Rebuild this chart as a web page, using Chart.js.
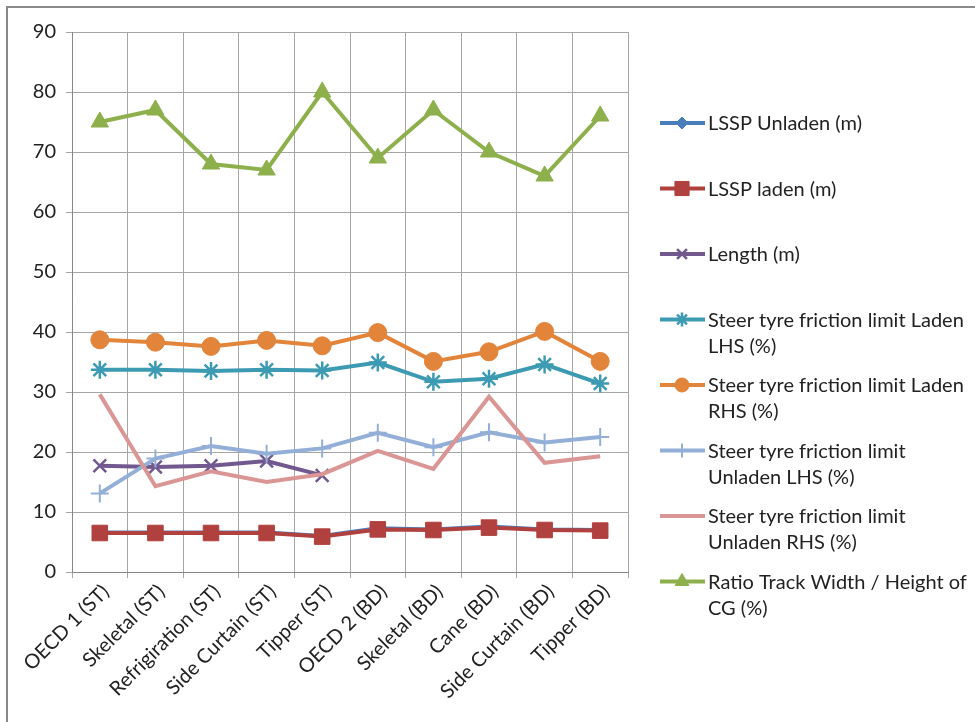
<!DOCTYPE html>
<html>
<head>
<meta charset="utf-8">
<script src="https://cdn.jsdelivr.net/npm/chart.js@4.4.0/dist/chart.umd.min.js"></script>
<style>
  html, body { margin: 0; padding: 0; background: #fff; }
  #wrap { width: 975px; height: 722px; }
</style>
</head>
<body>
<div id="wrap"><canvas id="chart" width="975" height="722"></canvas></div>
<script>
var categories = ['OECD 1 (ST)', 'Skeletal (ST)', 'Refrigiration (ST)', 'Side Curtain (ST)', 'Tipper (ST)',
                  'OECD 2 (BD)', 'Skeletal (BD)', 'Cane (BD)', 'Side Curtain (BD)', 'Tipper (BD)'];

var lsspUnladen   = [6.6, 6.6, 6.6, 6.6, 6.0, 7.3, 7.1, 7.6, 7.1, 7.0];
var lsspLaden     = [6.5, 6.5, 6.5, 6.5, 5.9, 7.1, 7.0, 7.4, 7.0, 6.9];
var lengthM       = [17.7, 17.5, 17.7, 18.5, 16.1, null, null, null, null, null];
var ladenLHS      = [33.7, 33.7, 33.5, 33.7, 33.6, 34.9, 31.7, 32.2, 34.6, 31.4];
var ladenRHS      = [38.7, 38.3, 37.6, 38.6, 37.7, 39.9, 35.1, 36.7, 40.1, 35.1];
var unladenLHS    = [13.1, 18.9, 21.0, 19.7, 20.6, 23.2, 20.8, 23.3, 21.6, 22.5];
var unladenRHS    = [29.6, 14.3, 16.8, 15.0, 16.3, 20.2, 17.2, 29.2, 18.2, 19.3];
var ratioTrackCG  = [75, 77, 68, 67, 80, 69, 77, 70, 66, 76];

var yTicks = [0, 10, 20, 30, 40, 50, 60, 70, 80, 90];

var legendLines = [
  ['LSSP Unladen (m)'],
  ['LSSP laden (m)'],
  ['Length (m)'],
  ['Steer tyre friction limit Laden', 'LHS (%)'],
  ['Steer tyre friction limit Laden', 'RHS (%)'],
  ['Steer tyre friction limit', 'Unladen LHS (%)'],
  ['Steer tyre friction limit', 'Unladen RHS (%)'],
  ['Ratio Track Width / Height of', 'CG (%)']
];

var FONT = 'Lato, "Open Sans", sans-serif';

function ds(label, data, color, style, radius, bw, idx, legR) {
  return {
    label: label,
    data: data,
    borderColor: color,
    backgroundColor: color,
    borderWidth: 4,
    pointStyle: style,
    pointRadius: radius,
    pointHoverRadius: radius,
    pointBorderWidth: bw,
    pointBorderColor: color,
    pointBackgroundColor: color,
    tension: 0,
    spanGaps: false,
    order: 10 - idx,
    legendRadius: legR
  };
}

var datasets = [
  ds('LSSP Unladen (m)', lsspUnladen, '#4a7ebb', 'rectRot', 5, 1, 0, 6),
  ds('LSSP laden (m)', lsspLaden, '#b0413e', 'rect', 11, 1, 1, 10),
  ds('Length (m)', lengthM, '#71588f', 'crossRot', 9, 2.5, 2, 7),
  ds('Steer tyre friction limit Laden LHS (%)', ladenLHS, '#3d9ab3', 'star', 9, 2.5, 3, 7),
  ds('Steer tyre friction limit Laden RHS (%)', ladenRHS, '#e2843a', 'circle', 9, 1, 4, 7),
  ds('Steer tyre friction limit Unladen LHS (%)', unladenLHS, '#93afd8', 'cross', 9, 2, 5, 7),
  ds('Steer tyre friction limit Unladen RHS (%)', unladenRHS, '#d99694', 'circle', 0, 0, 6, 0),
  ds('Ratio Track Width / Height of CG (%)', ratioTrackCG, '#8eb04c', 'triangle', 10, 1, 7, 8)
];

var framePlugin = {
  id: 'frame',
  beforeDraw: function(chart) {
    var ctx = chart.ctx;
    ctx.save();
    ctx.fillStyle = '#fff';
    ctx.fillRect(0, 0, chart.width, chart.height);
    ctx.strokeStyle = '#898989';
    ctx.lineWidth = 2;
    ctx.beginPath();
    ctx.moveTo(7, chart.height + 5);
    ctx.lineTo(7, 7);
    ctx.lineTo(chart.width + 5, 7);
    ctx.stroke();
    ctx.restore();
  }
};

var sideLegend = {
  id: 'sideLegend',
  afterDraw: function(chart) {
    var ctx = chart.ctx;
    ctx.save();
    ctx.font = '20px ' + FONT;
    ctx.textBaseline = 'middle';
    ctx.textAlign = 'left';
    chart.data.datasets.forEach(function(d, i) {
      var y = 123 + i * 65.5;
      ctx.strokeStyle = d.borderColor;
      ctx.lineWidth = 4;
      ctx.beginPath();
      ctx.moveTo(660, y);
      ctx.lineTo(705, y);
      ctx.stroke();
      if (d.legendRadius > 0) {
        ctx.fillStyle = d.pointBackgroundColor;
        ctx.strokeStyle = d.pointBorderColor;
        ctx.lineWidth = d.pointBorderWidth;
        Chart.helpers.drawPoint(ctx, {
          pointStyle: d.pointStyle,
          radius: d.legendRadius,
          rotation: 0,
          borderWidth: d.pointBorderWidth
        }, 682, y);
      }
      ctx.fillStyle = '#222';
      legendLines[i].forEach(function(t, j) {
        ctx.fillText(t, 708, y + 1 + j * 26);
      });
    });
    ctx.restore();
  }
};

new Chart(document.getElementById('chart'), {
  type: 'line',
  data: { labels: categories, datasets: datasets },
  options: {
    responsive: false,
    animation: false,
    layout: { padding: { left: 0, right: 347, top: 32, bottom: 0 } },
    plugins: {
      legend: { display: false },
      tooltip: { enabled: false }
    },
    scales: {
      x: {
        offset: true,
        afterFit: function(s) { s.height = 150; },
        grid: { offset: true, color: '#a6a6a6', lineWidth: 1, tickLength: 6, drawOnChartArea: true },
        border: { color: '#888', width: 1 },
        ticks: {
          autoSkip: false, maxRotation: 45, minRotation: 45, labelOffset: 6,
          color: '#222', font: { family: FONT, size: 20 }, padding: 2
        }
      },
      y: {
        min: 0, max: 90,
        afterFit: function(s) { s.width = 72; },
        afterBuildTicks: function(s) { s.ticks = yTicks.map(function(v) { return { value: v }; }); },
        grid: { color: '#a6a6a6', lineWidth: 1, tickLength: 6 },
        border: { color: '#888', width: 1 },
        ticks: { color: '#222', font: { family: FONT, size: 20 }, padding: 10 }
      }
    }
  },
  plugins: [framePlugin, sideLegend]
});
</script>
</body>
</html>
